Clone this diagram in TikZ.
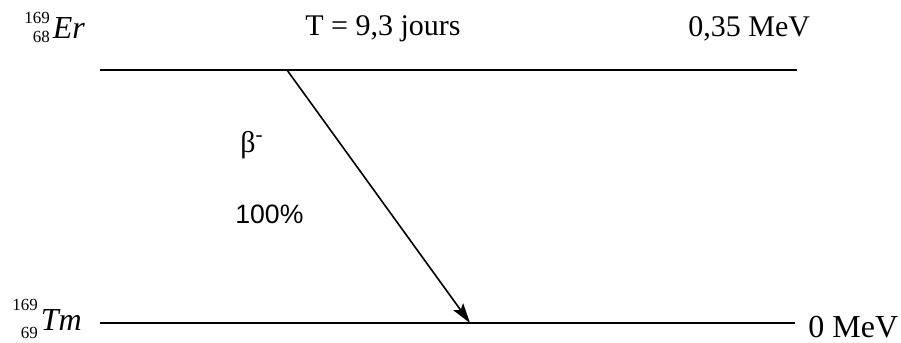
\documentclass[tikz,border=0pt]{standalone}
\usepackage{fontspec}
\setmainfont{Liberation Serif}
\newfontfamily\arialfont{Liberation Sans}
\usetikzlibrary{arrows.meta}
% mass number, charge number, symbol, raise of the upper and lower index
\newcommand{\nucl}[5]{{\fontsize{8.5}{9}\selectfont\rlap{\raisebox{#4}{#1}}\raisebox{#5}{\hphantom{1}#2}}\kern1.5pt\textit{#3}}

\begin{document}
\begin{tikzpicture}[x=0.5pt,y=-0.5pt,every node/.style={font=\fontsize{15}{18}\selectfont,inner sep=0pt},
  level/.style={line width=1pt},
  decay/.style={line width=.8pt,-{Stealth[length=10pt,width=6pt,inset=2pt]}}]
\useasboundingbox (0,0) rectangle (901,343);
\coordinate (er0) at (100,70);
\coordinate (er1) at (797,70);
\coordinate (tm0) at (100,323);
\coordinate (tm1) at (795,323);
\coordinate (b0) at (287,70);
\coordinate (b1) at (470,323);
\draw[level] (er0)--(er1);
\draw[level] (tm0)--(tm1);
\draw[decay] (b0)--(b1);
\node[anchor=base west,font=\fontsize{16}{18}\selectfont] (er) at (24,38) {\nucl{169}{68}{Er}{7.5pt}{-2pt}};
\node[anchor=base west,font=\fontsize{16}{18}\selectfont] (tm) at (12,330) {\nucl{169}{69}{Tm}{10pt}{-4pt}};
\node[anchor=base west] (period) at (305,35) {T = 9,3 jours};
\node[anchor=base west] (eer) at (688,36) {0,35 MeV};
\node[anchor=base west,font=\fontsize{16}{18}\selectfont] (etm) at (808,337) {0 MeV};
\node[anchor=base west] (beta) at (240,152) {β\textsuperscript{-}};
\node[anchor=base west,font=\arialfont\fontsize{13.3}{16}\selectfont] (ratio) at (235,223) {100\%};
\end{tikzpicture}
\end{document}
